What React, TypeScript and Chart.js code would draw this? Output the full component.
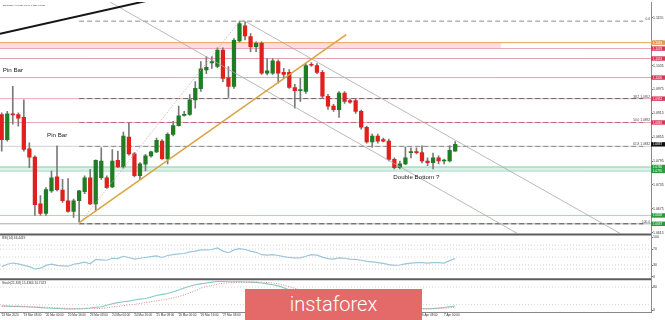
import React, { useEffect, useRef } from "react";
import { Chart, registerables } from "chart.js";

Chart.register(...registerables);

const FONT = "'Liberation Sans', Arial, sans-serif";

// ---- DATA (EURUSD H4) ----
const symbolName = "EURUSD,H4";
const xTickBars = [0, 4, 8, 12, 16, 20, 24, 28, 32, 36, 40, 44, 48, 52, 56, 60, 64, 68, 72, 76, 80];
const xTickLabels = [
  "18 Mar 2020", "19 Mar 08:00", "20 Mar 00:00", "20 Mar 16:00", "23 Mar 08:00", "24 Mar 00:00",
  "24 Mar 16:00", "25 Mar 08:00", "26 Mar 00:00", "26 Mar 16:00", "27 Mar 08:00", "30 Mar 00:00",
  "30 Mar 16:00", "31 Mar 08:00", "1 Apr 00:00", "1 Apr 16:00", "2 Apr 08:00", "3 Apr 00:00",
  "3 Apr 16:00", "6 Apr 08:00", "7 Apr 00:00",
];

const opens = [
  1.0912, 1.0849, 1.0913, 1.0912, 1.0905, 1.0826, 1.0805, 1.0687, 1.0663, 1.0720,
  1.0755, 1.0722, 1.0695, 1.0668, 1.0695, 1.0718, 1.0753, 1.0687, 1.0753, 1.0753,
  1.0730, 1.0797, 1.0780, 1.0855, 1.0813, 1.0758, 1.0787, 1.0808, 1.0818, 1.0845,
  1.0800, 1.0862, 1.0884, 1.0910, 1.0912, 1.0949, 1.0977, 1.1024, 1.1042, 1.1033,
  1.1074, 1.1005, 1.0983, 1.1097, 1.1135, 1.1108, 1.1083, 1.1091, 1.1016, 1.1016,
  1.1045, 1.1018, 1.1018, 1.0980, 1.0972, 1.0970, 1.1037, 1.1035, 1.1018, 1.0958,
  1.0933, 1.0924, 1.0966, 1.0947, 1.0947, 1.0920, 1.0880, 1.0843, 1.0858, 1.0849,
  1.0845, 1.0799, 1.0778, 1.0788, 1.0816, 1.0818, 1.0816, 1.0795, 1.0791, 1.0803,
  1.0795, 1.0795, 1.0820,
];
const highs = [
  1.0916, 1.0920, 1.0983, 1.0916, 1.0949, 1.0841, 1.0808, 1.0708, 1.0728, 1.0770,
  1.0833, 1.0749, 1.0751, 1.0699, 1.0721, 1.0758, 1.0774, 1.0798, 1.0828, 1.0758,
  1.0824, 1.0820, 1.0868, 1.0891, 1.0816, 1.0791, 1.0812, 1.0820, 1.0853, 1.0849,
  1.0866, 1.0895, 1.0933, 1.0920, 1.0962, 1.0995, 1.1045, 1.1058, 1.1058, 1.1080,
  1.1080, 1.1033, 1.1103, 1.1147, 1.1146, 1.1116, 1.1095, 1.1095, 1.1053, 1.1053,
  1.1050, 1.1028, 1.1025, 1.0988, 1.1003, 1.1040, 1.1043, 1.1040, 1.1023, 1.0963,
  1.0938, 1.0970, 1.0970, 1.0950, 1.0953, 1.0923, 1.0883, 1.0863, 1.0863, 1.0853,
  1.0850, 1.0803, 1.0795, 1.0830, 1.0828, 1.0828, 1.0833, 1.0803, 1.0815, 1.0808,
  1.0800, 1.0833, 1.0844,
];
const lows = [
  1.0820, 1.0845, 1.0888, 1.0883, 1.0820, 1.0778, 1.0658, 1.0658, 1.0658, 1.0716,
  1.0720, 1.0691, 1.0666, 1.0653, 1.0641, 1.0713, 1.0685, 1.0670, 1.0749, 1.0726,
  1.0728, 1.0778, 1.0777, 1.0810, 1.0755, 1.0748, 1.0770, 1.0805, 1.0816, 1.0799,
  1.0788, 1.0858, 1.0883, 1.0908, 1.0910, 1.0928, 1.0970, 1.1015, 1.1028, 1.1030,
  1.0995, 1.0955, 1.0978, 1.1095, 1.1100, 1.1070, 1.1070, 1.1013, 1.1012, 1.1013,
  1.0991, 1.1005, 1.0978, 1.0928, 1.0945, 1.0965, 1.1033, 1.1015, 1.0953, 1.0925,
  1.0920, 1.0905, 1.0940, 1.0940, 1.0915, 1.0875, 1.0840, 1.0830, 1.0840, 1.0843,
  1.0795, 1.0775, 1.0775, 1.0786, 1.0803, 1.0813, 1.0790, 1.0783, 1.0775, 1.0788,
  1.0788, 1.0793, 1.0820,
];
const closes = [
  1.0849, 1.0914, 1.0911, 1.0903, 1.0824, 1.0805, 1.0685, 1.0663, 1.0723, 1.0753,
  1.0723, 1.0695, 1.0668, 1.0695, 1.0720, 1.0753, 1.0687, 1.0797, 1.0795, 1.0728,
  1.0795, 1.0780, 1.0858, 1.0813, 1.0758, 1.0788, 1.0808, 1.0818, 1.0847, 1.0801,
  1.0862, 1.0884, 1.0909, 1.0912, 1.0949, 1.0978, 1.1027, 1.1031, 1.1045, 1.1074,
  1.1003, 1.0983, 1.1099, 1.1141, 1.1110, 1.1083, 1.1091, 1.1016, 1.1022, 1.1047,
  1.1016, 1.1013, 1.0980, 1.0972, 1.0975, 1.1035, 1.1036, 1.1018, 1.0958, 1.0933,
  1.0924, 1.0966, 1.0945, 1.0943, 1.0920, 1.0880, 1.0843, 1.0858, 1.0845, 1.0845,
  1.0799, 1.0778, 1.0788, 1.0803, 1.0818, 1.0816, 1.0795, 1.0791, 1.0803, 1.0795,
  1.0796, 1.0822, 1.0837,
];

const rsiValues = [
  26, 32, 35, 33, 29, 26, 20, 22, 29, 32,
  29, 28, 27, 32, 34, 37, 33, 44, 43, 42,
  47, 46, 52, 49, 45, 47, 49, 51, 53, 49,
  54, 56, 58, 59, 63, 65, 68, 68, 69, 73,
  65, 61, 68, 71, 69, 65, 62, 56, 55, 56,
  54, 51, 49, 48, 48, 52, 56, 55, 50, 46,
  45, 48, 47, 45, 44, 42, 39, 38, 36, 34,
  31, 29, 30, 33, 35, 36, 36, 35, 36, 36,
  35, 41, 46.4419,
];
const stochMain = [
  16, 15, 14, 14, 13, 12, 11, 10, 8.5, 7.5,
  7, 6, 5, 5, 6, 7, 8.5, 11, 13, 18,
  23, 27, 30, 32, 36, 39, 41, 46, 51, 55,
  58, 64, 70, 77, 83, 88, 91, 94, 97, 99,
  99, 98, 98, 98, 97.5, 97, 96, 94, 91, 88,
  84, 78, 70, 62, 56, 52, 50, 46, 40, 35,
  30, 28, 26, 24, 21, 18, 15, 13, 11, 9,
  7, 5, 4, 4, 5, 5, 6, 6, 7, 8,
  10, 13, 15.4364,
];
const stochSignal = [
  14, 14, 14, 14, 14, 13, 12.5, 12, 11, 10,
  9, 8, 7, 6.5, 6, 6, 6.5, 7, 7.5, 9,
  12, 14, 17, 19, 21, 24, 27, 30, 33, 36,
  39, 43, 48, 53, 61, 67, 76, 82, 86, 90,
  93, 94.5, 95.5, 96, 96.5, 97, 97, 96.5, 95.5, 94,
  91, 86, 81, 76, 70, 64, 59, 54, 50, 46,
  42, 38, 34, 30, 27, 24, 21, 18, 15, 13,
  11, 9, 7, 6, 5, 5, 5, 5.5, 6, 7,
  8, 9.5, 10.7023,
];

const priceTicks = [
  1.0615, 1.0645, 1.0675, 1.0705, 1.0735, 1.0765, 1.0795, 1.0825, 1.0855, 1.0885,
  1.0915, 1.0945, 1.0975, 1.1005, 1.1035, 1.1065, 1.1095, 1.1125, 1.1155, 1.1185,
];
const rsiTicks = [0, 20, 30, 50, 70, 80, 100];
const rsiLevels = [20, 30, 50, 70, 80];
const stochTicks = [0, 20, 80, 100];
const stochLevels = [20, 80];

// horizontal levels (full width)
const levelPrices = [1.1093, 1.1078, 1.1053, 1.1005, 1.0952, 1.0892, 1.0832, 1.0658, 1.0637];
// zones
const zoneTops = [1.1093, 1.0780];
const zoneBottoms = [1.1078, 1.0770];
const zoneEndBars = [90.3, 117.4];
// fibonacci
const fibHigh = 1.1147;
const fibLow = 1.0637;
const fibStartBar = 14;
const fibEndBar = 116;
const fibRatios = [0, 38.2, 50, 61.8, 100];
// trend lines
const trendX1 = [-0.31, 14, 14, 43.6, 19.6];
const trendY1 = [1.1115, 1.064, 1.0637, 1.115, 1.1195];
const trendX2 = [30, 62.3, 43, 111.8, 93.2];
const trendY2 = [1.121, 1.1113, 1.1147, 1.0613, 1.0613];
// right axis price markers
const markerPrices = [1.1093, 1.1078, 1.1053, 1.1005, 1.0952, 1.0892, 1.0837, 1.078, 1.077, 1.0658, 1.0637];
// notes
const noteTexts = ["Pin Bar", "Pin Bar", "Double Bottom ?"];
const noteBars = [0.2, 8.2, 70.8];
const notePrices = [1.1023, 1.0861, 1.0755];

// ---- STYLE ----
const X_MIN = -0.31;
const X_MAX = 117.41;
const levelColors = ["#eaa35c", "#eba3b2", "#e8a0b0", "#e8a0b0", "#eaa7b6", "#eaa7b6", "#d2d2d2", "#a9d9b0", "#a9a9a9"];
const zoneFills = ["rgba(252,205,205,0.65)", "rgba(200,236,220,0.7)"];
const zoneBorders = ["rgba(0,0,0,0)", "#86cdb0"];
const fibColors = ["#8c8c8c", "#6a6a6a", "#c76a82", "#8c8c8c", "#555555"];
const trendColors = ["#161616", "#d9a441", "#d6a6ae", "#a8a8a8", "#a8a8a8"];
const trendWidths = [2, 1.5, 0.8, 0.8, 0.8];
const trendDashes = [[], [], [1.5, 1.5], [], []];
const markerColors = ["#e89a4c", "#d9365a", "#d9365a", "#d9365a", "#d9365a", "#d9365a", "#111111", "#2b9a3f", "#2b9a3f", "#2b9a3f", "#2b9a3f"];

const fibPrice = (r: number) => fibHigh - ((fibHigh - fibLow) * r) / 100;
const fibLabel = (r: number) =>
  r === 0 || r === 100 ? r.toFixed(1) : `${r.toFixed(1)} ${fibPrice(r).toFixed(4)}`;

const last = opens.length - 1;
const mainTitle = `${symbolName} ${opens[last].toFixed(4)} ${highs[last].toFixed(4)} ${lows[last].toFixed(4)} ${closes[last].toFixed(4)}`;
const rsiTitle = `RSI(14) ${rsiValues[last].toFixed(4)}`;
const stochTitle = `Stoch(21,8,8) ${stochMain[last].toFixed(4)} ${stochSignal[last].toFixed(4)}`;

const overlayPlugin = {
  id: "mtOverlay",
  afterDatasetsDraw(chart: any) {
    const { ctx, chartArea, scales } = chart;
    const xs = scales.x, ys = scales.y, rs = scales.rsi, ss = scales.stoch;
    ctx.save();
    // fib labels
    ctx.font = `3.2px ${FONT}`;
    ctx.fillStyle = "#444";
    ctx.textAlign = "right";
    ctx.textBaseline = "bottom";
    fibRatios.forEach((r) => {
      ctx.fillText(fibLabel(r), chartArea.right - 1, ys.getPixelForValue(fibPrice(r)) - 0.3);
    });
    // notes
    ctx.font = `6.2px ${FONT}`;
    ctx.fillStyle = "#222";
    ctx.textAlign = "left";
    ctx.textBaseline = "middle";
    noteTexts.forEach((t, i) => {
      ctx.fillText(t, xs.getPixelForValue(noteBars[i]), ys.getPixelForValue(notePrices[i]));
    });
    // panel titles
    ctx.fillStyle = "#333";
    ctx.textBaseline = "top";
    ctx.font = `2.2px ${FONT}`;
    ctx.fillText(mainTitle, 3, ys.top + 2);
    ctx.font = `3.2px ${FONT}`;
    ctx.fillText(rsiTitle, 2, rs.top + 2);
    ctx.fillText(stochTitle, 2, ss.top + 2);
    // separators
    ctx.strokeStyle = "#5c5c5c";
    ctx.lineWidth = 2;
    [rs.top, ss.top].forEach((t: number) => {
      ctx.beginPath();
      ctx.moveTo(chartArea.left, t);
      ctx.lineTo(chartArea.right, t);
      ctx.stroke();
    });
    ctx.restore();
  },
  afterDraw(chart: any) {
    const { ctx, chartArea, scales, width } = chart;
    const ys = scales.y;
    ctx.save();
    ctx.font = `3px ${FONT}`;
    ctx.textAlign = "left";
    ctx.textBaseline = "middle";
    markerPrices.forEach((p, i) => {
      const py = ys.getPixelForValue(p);
      ctx.fillStyle = markerColors[i];
      ctx.fillRect(chartArea.right, py - 2.2, width - chartArea.right, 4.4);
      ctx.fillStyle = "#fff";
      ctx.fillText(p.toFixed(4), chartArea.right + 2, py + 0.2);
    });
    ctx.restore();
  },
};

export default function App() {
  const ref = useRef<HTMLCanvasElement>(null);

  useEffect(() => {
    Chart.defaults.font.family = FONT;
    const bars = opens.map((_, i) => i);
    const bull = bars.map((i) => closes[i] >= opens[i]);

    const datasets: any[] = [];

    // trend lines (top)
    trendX1.forEach((_, k) => {
      datasets.push({
        type: "line",
        yAxisID: "y",
        data: [{ x: trendX1[k], y: trendY1[k] }, { x: trendX2[k], y: trendY2[k] }],
        borderColor: trendColors[k],
        borderWidth: trendWidths[k],
        borderDash: trendDashes[k],
        pointRadius: 0,
        order: 0,
      });
    });

    // candle bodies
    datasets.push({
      type: "bar",
      yAxisID: "y",
      data: bars.map((i) => ({ x: i, y: [opens[i], closes[i]] })),
      backgroundColor: bars.map((i) => (bull[i] ? "#1f7d24" : "#e0201c")),
      borderWidth: 0,
      barThickness: 3.6,
      minBarLength: 1,
      grouped: false,
      order: 1,
    });
    // wicks
    datasets.push({
      type: "bar",
      yAxisID: "y",
      data: bars.map((i) => ({ x: i, y: [lows[i], highs[i]] })),
      backgroundColor: "#7a7a7a",
      borderWidth: 0,
      barThickness: 1,
      grouped: false,
      order: 2,
    });

    // fib dashed levels
    fibRatios.forEach((r, k) => {
      datasets.push({
        type: "line",
        yAxisID: "y",
        data: [{ x: fibStartBar, y: fibPrice(r) }, { x: fibEndBar, y: fibPrice(r) }],
        borderColor: fibColors[k],
        borderWidth: 1,
        borderDash: [5, 3],
        pointRadius: 0,
        order: 5,
      });
    });

    // zones
    zoneTops.forEach((_, k) => {
      datasets.push({
        type: "line",
        yAxisID: "y",
        data: [{ x: X_MIN, y: zoneTops[k] }, { x: zoneEndBars[k], y: zoneTops[k] }],
        borderColor: zoneBorders[k],
        borderWidth: 1,
        backgroundColor: zoneFills[k],
        fill: "+1",
        pointRadius: 0,
        order: 10,
      });
      datasets.push({
        type: "line",
        yAxisID: "y",
        data: [{ x: X_MIN, y: zoneBottoms[k] }, { x: zoneEndBars[k], y: zoneBottoms[k] }],
        borderColor: zoneBorders[k],
        borderWidth: 1,
        pointRadius: 0,
        order: 10,
      });
    });

    // full width levels
    levelPrices.forEach((p, k) => {
      datasets.push({
        type: "line",
        yAxisID: "y",
        data: [{ x: X_MIN, y: p }, { x: X_MAX, y: p }],
        borderColor: levelColors[k],
        borderWidth: 1,
        pointRadius: 0,
        order: 8,
      });
    });

    // RSI
    rsiLevels.forEach((v) => {
      datasets.push({
        type: "line",
        yAxisID: "rsi",
        data: [{ x: X_MIN, y: v }, { x: X_MAX, y: v }],
        borderColor: "#c9c9c9",
        borderWidth: 0.8,
        borderDash: [1, 2],
        pointRadius: 0,
        order: 9,
      });
    });
    datasets.push({
      type: "line",
      yAxisID: "rsi",
      data: bars.map((i) => ({ x: i, y: rsiValues[i] })),
      borderColor: "#9cc6da",
      borderWidth: 1.2,
      pointRadius: 0,
      tension: 0,
      order: 3,
    });

    // Stochastic
    stochLevels.forEach((v) => {
      datasets.push({
        type: "line",
        yAxisID: "stoch",
        data: [{ x: X_MIN, y: v }, { x: X_MAX, y: v }],
        borderColor: "#c9c9c9",
        borderWidth: 0.8,
        borderDash: [1, 2],
        pointRadius: 0,
        order: 9,
      });
    });
    datasets.push({
      type: "line",
      yAxisID: "stoch",
      data: bars.map((i) => ({ x: i, y: stochMain[i] })),
      borderColor: "#86cbc4",
      borderWidth: 1.1,
      pointRadius: 0,
      order: 4,
    });
    datasets.push({
      type: "line",
      yAxisID: "stoch",
      data: bars.map((i) => ({ x: i, y: stochSignal[i] })),
      borderColor: "#de8a8a",
      borderWidth: 1,
      borderDash: [1, 1.5],
      pointRadius: 0,
      order: 3,
    });

    const tickFont = { size: 3.5, family: FONT };

    const chart = new Chart(ref.current as HTMLCanvasElement, {
      type: "line",
      data: { datasets },
      plugins: [overlayPlugin],
      options: {
        responsive: false,
        animation: false,
        devicePixelRatio: 1,
        events: [],
        layout: { padding: 0 },
        plugins: { legend: { display: false }, tooltip: { enabled: false } },
        scales: {
          x: {
            type: "linear",
            position: "bottom",
            min: X_MIN,
            max: X_MAX,
            bounds: "data",
            offset: false,
            afterBuildTicks: (s: any) => {
              s.ticks = xTickBars.map((v) => ({ value: v }));
            },
            afterFit: (s: any) => {
              s.height = 8;
            },
            ticks: {
              autoSkip: false,
              maxRotation: 0,
              minRotation: 0,
              align: "start",
              padding: 0,
              font: { size: 3, family: FONT },
              color: "#333",
              callback: (v: any) => {
                const k = xTickBars.indexOf(Number(v));
                return k >= 0 ? xTickLabels[k] : "";
              },
            },
            grid: { drawOnChartArea: false, drawTicks: true, tickLength: 1.5, color: "#888", offset: false },
            border: { color: "#888" },
          },
          y: {
            type: "linear",
            position: "right",
            stack: "panes",
            stackWeight: 234,
            min: 1.061,
            max: 1.1195,
            bounds: "data",
            afterBuildTicks: (s: any) => {
              s.ticks = priceTicks.map((v) => ({ value: v }));
            },
            afterFit: (s: any) => {
              s.width = 14;
            },
            ticks: { font: tickFont, color: "#333", padding: 0, callback: (v: any) => Number(v).toFixed(4) },
            grid: { drawOnChartArea: false, tickLength: 2, color: "#777" },
            border: { color: "#8a8a8a" },
          },
          rsi: {
            type: "linear",
            position: "right",
            stack: "panes",
            stackWeight: 45,
            min: -5.75,
            max: 106.75,
            bounds: "data",
            afterBuildTicks: (s: any) => {
              s.ticks = rsiTicks.map((v) => ({ value: v }));
            },
            afterFit: (s: any) => {
              s.width = 14;
            },
            ticks: { font: tickFont, color: "#333", padding: 0 },
            grid: { drawOnChartArea: false, tickLength: 2, color: "#777" },
            border: { color: "#8a8a8a" },
          },
          stoch: {
            type: "linear",
            position: "right",
            stack: "panes",
            stackWeight: 33,
            min: -5.1,
            max: 106.8,
            bounds: "data",
            afterBuildTicks: (s: any) => {
              s.ticks = stochTicks.map((v) => ({ value: v }));
            },
            afterFit: (s: any) => {
              s.width = 14;
            },
            ticks: { font: tickFont, color: "#333", padding: 0 },
            grid: { drawOnChartArea: false, tickLength: 2, color: "#777" },
            border: { color: "#8a8a8a" },
          },
        },
      } as any,
    } as any);
    return () => chart.destroy();
  }, []);

  return (
    <div style={{ position: "fixed", left: 0, top: 0, width: 665, height: 320, background: "#fff", overflow: "hidden" }}>
      <canvas ref={ref} width={665} height={320} style={{ display: "block", width: 665, height: 320 }} />
      <div
        style={{
          position: "absolute",
          left: 245,
          top: 289,
          width: 177,
          height: 31,
          background: "#e46a6a",
          color: "#fff",
          fontFamily: "Roboto, 'Open Sans', sans-serif",
          fontWeight: 300,
          fontSize: 20,
          display: "flex",
          alignItems: "center",
          justifyContent: "center",
          lineHeight: "31px",
        }}
      >
        instaforex
      </div>
    </div>
  );
}
